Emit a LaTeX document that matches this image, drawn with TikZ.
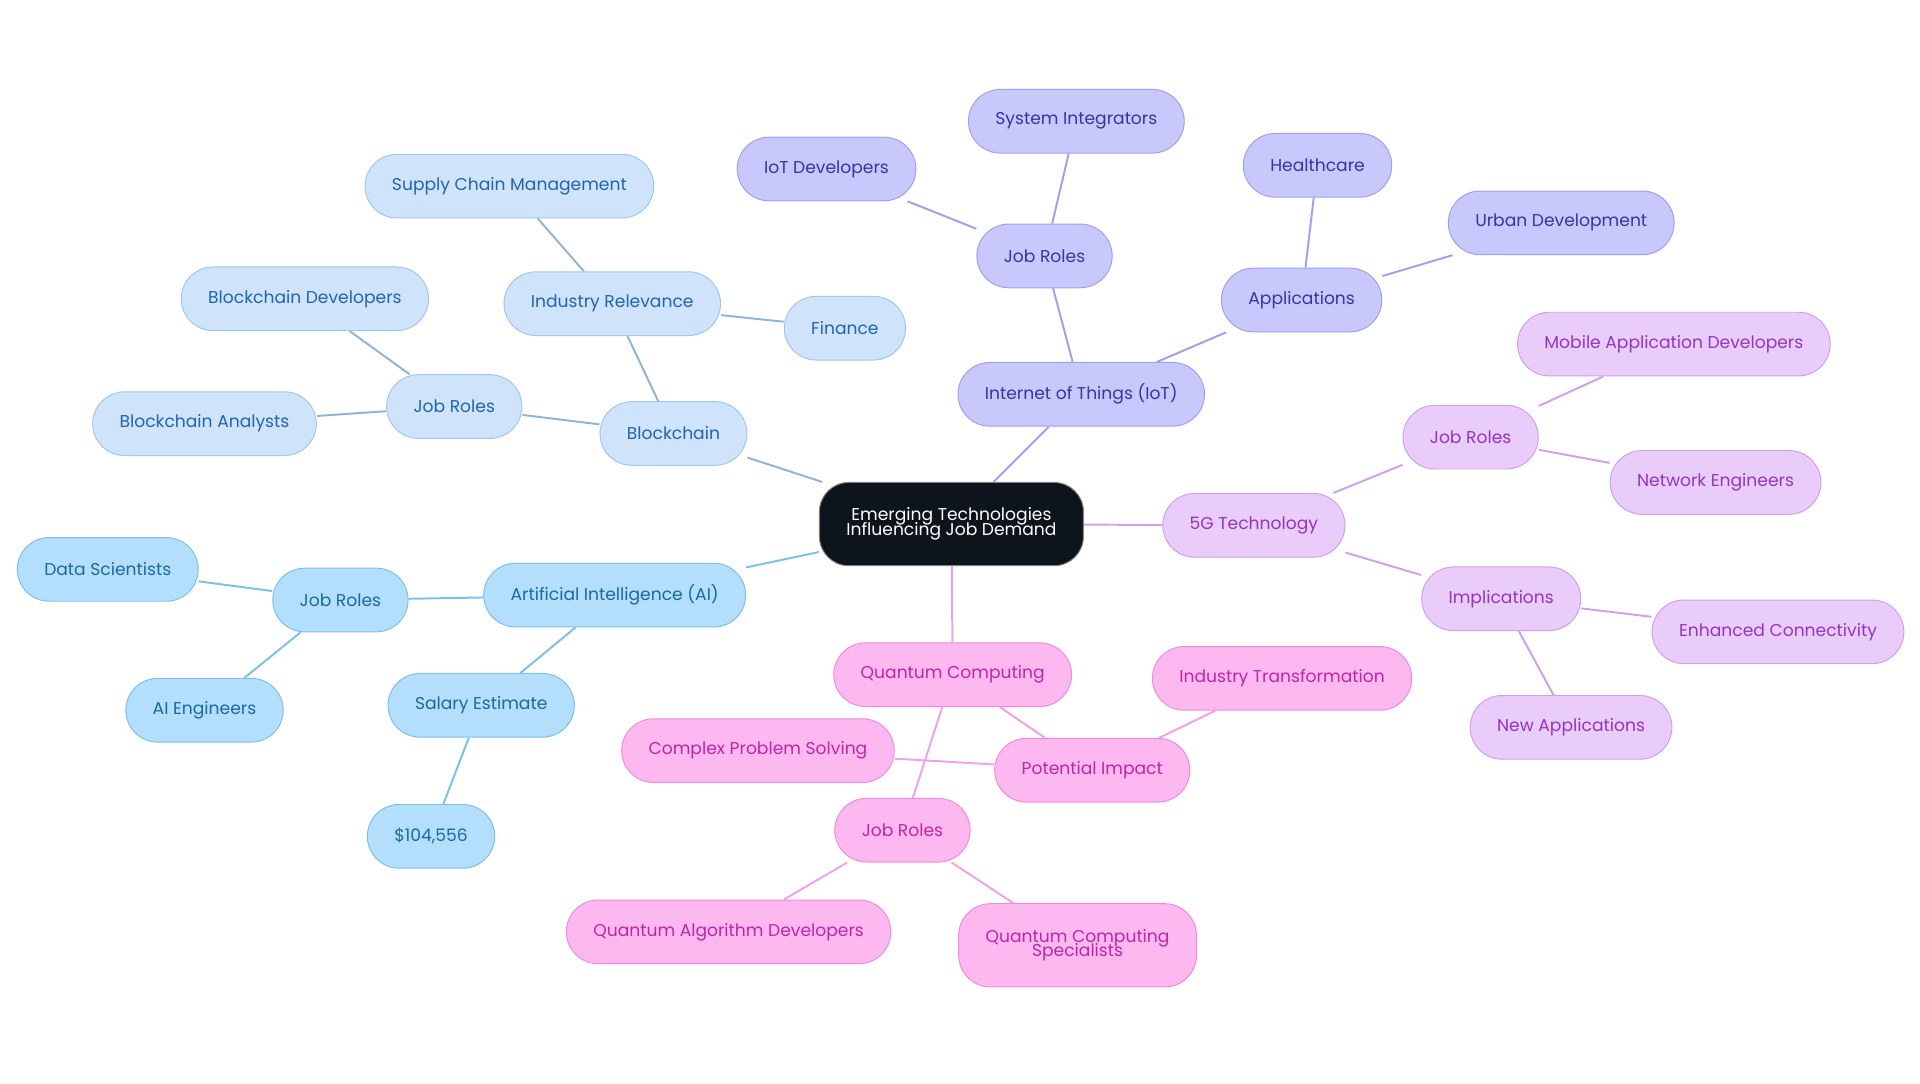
\documentclass[tikz,border=0pt]{standalone}
\usepackage{fontspec}
\setmainfont{Poppins}
\usetikzlibrary{backgrounds}
\definecolor{aiFill}{HTML}{B3DEFC}\definecolor{aiDraw}{HTML}{7CC0EE}\definecolor{aiText}{HTML}{1A6AA0}
\definecolor{bcFill}{HTML}{CFE3FA}\definecolor{bcDraw}{HTML}{A0C8EE}\definecolor{bcText}{HTML}{2165B0}
\definecolor{iotFill}{HTML}{C8C8FC}\definecolor{iotDraw}{HTML}{A0A0EE}\definecolor{iotText}{HTML}{3535A5}
\definecolor{fgFill}{HTML}{EACCFA}\definecolor{fgDraw}{HTML}{CFA0EE}\definecolor{fgText}{HTML}{9335C0}
\definecolor{qcFill}{HTML}{FDB8F0}\definecolor{qcDraw}{HTML}{F08AE0}\definecolor{qcText}{HTML}{C025A8}
\definecolor{hub}{HTML}{0D141C}
\tikzset{topic/.style={rounded corners=13pt,minimum height=26pt,inner xsep=11pt,font=\fontsize{7}{8}\selectfont,align=center,thin},
  ai/.style={topic,fill=aiFill,draw=aiDraw,text=aiText},
  bc/.style={topic,fill=bcFill,draw=bcDraw,text=bcText},
  iot/.style={topic,fill=iotFill,draw=iotDraw,text=iotText},
  fg/.style={topic,fill=fgFill,draw=fgDraw,text=fgText},
  qc/.style={topic,fill=qcFill,draw=qcDraw,text=qcText},
  link/.style={line width=0.8pt}}

\begin{document}
\begin{tikzpicture}[x=0.5pt,y=-0.5pt]
\useasboundingbox (0,0) rectangle (1568,885);

\node[topic,fill=hub,draw=gray,text=white,minimum height=34pt,rounded corners=12pt] (hub) at (777,428) {Emerging Technologies\\[-2pt]Influencing Job Demand};

\node[bc] (bc) at (550,354) {Blockchain};
\node[bc] (bcjob) at (371,332) {Job Roles};
\node[bc] (bcdev) at (249,244) {Blockchain Developers};
\node[bc] (bcana) at (167,346) {Blockchain Analysts};
\node[bc] (bcind) at (500,248) {Industry Relevance};
\node[bc] (bcscm) at (416,152) {Supply Chain Management};
\node[bc] (bcfin) at (690,268) {Finance};

\node[iot] (iot) at (883,322) {Internet of Things (IoT)};
\node[iot] (iotjob) at (853,209) {Job Roles};
\node[iot] (iotdev) at (675,138) {IoT Developers};
\node[iot] (iotsys) at (879,99) {System Integrators};
\node[iot] (iotapp) at (1063,245) {Applications};
\node[iot] (iothc) at (1076,135) {Healthcare};
\node[iot] (iotud) at (1275,182) {Urban Development};

\node[fg] (fg) at (1024,429) {5G Technology};
\node[fg] (fgjob) at (1201,357) {Job Roles};
\node[fg] (fgmob) at (1367,281) {Mobile Application Developers};
\node[fg] (fgnet) at (1401,394) {Network Engineers};
\node[fg] (fgimp) at (1226,489) {Implications};
\node[fg] (fgenh) at (1452,516) {Enhanced Connectivity};
\node[fg] (fgnew) at (1283,594) {New Applications};

\node[qc] (qc) at (778,551) {Quantum Computing};
\node[qc] (qcimp) at (892,629) {Potential Impact};
\node[qc] (qcind) at (1047,554) {Industry Transformation};
\node[qc] (qccps) at (619,613) {Complex Problem Solving};
\node[qc] (qcjob) at (737,678) {Job Roles};
\node[qc] (qcalg) at (595,761) {Quantum Algorithm Developers};
\node[qc,minimum height=34pt] (qcspec) at (880,772) {Quantum Computing\\[-2pt]Specialists};

\node[ai] (ai) at (502,486) {Artificial Intelligence (AI)};
\node[ai] (aijob) at (278,490) {Job Roles};
\node[ai] (aids) at (88,465) {Data Scientists};
\node[ai] (aieng) at (167,580) {AI Engineers};
\node[ai] (aisal) at (393,576) {Salary Estimate};
\node[ai] (aiusd) at (352,683) {\$104,556};

\begin{scope}[on background layer]
\draw[link,draw=bcDraw!90!black] (hub) -- (bc) (bc) -- (bcjob) (bcjob) -- (bcdev) (bcjob) -- (bcana)
  (bc) -- (bcind) (bcind) -- (bcscm) (bcind) -- (bcfin);
\draw[link,draw=iotDraw] (hub) -- (iot) (iot) -- (iotjob) (iotjob) -- (iotdev) (iotjob) -- (iotsys)
  (iot) -- (iotapp) (iotapp) -- (iothc) (iotapp) -- (iotud);
\draw[link,draw=fgDraw] (hub) -- (fg) (fg) -- (fgjob) (fgjob) -- (fgmob) (fgjob) -- (fgnet)
  (fg) -- (fgimp) (fgimp) -- (fgenh) (fgimp) -- (fgnew);
\draw[link,draw=qcDraw!80] (hub) -- (qc) (qc) -- (qcimp) (qcimp) -- (qcind) (qcimp) -- (qccps)
  (qc) -- (qcjob) (qcjob) -- (qcalg) (qcjob) -- (qcspec);
\draw[link,draw=aiDraw] (hub) -- (ai) (ai) -- (aijob) (aijob) -- (aids) (aijob) -- (aieng)
  (ai) -- (aisal) (aisal) -- (aiusd);
\end{scope}
\end{tikzpicture}
\end{document}
